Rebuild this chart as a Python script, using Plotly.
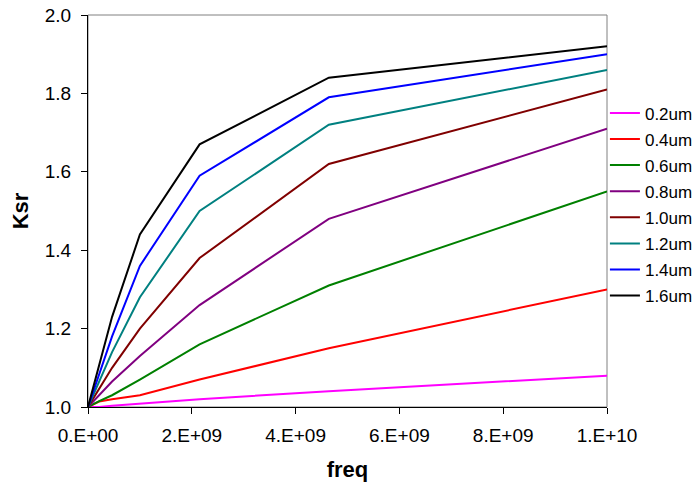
import plotly.graph_objects as go

freq = [0, 2.15e8, 4.64e8, 1e9, 2.15e9, 4.64e9, 1e10]

series_names = ["0.2um", "0.4um", "0.6um", "0.8um", "1.0um", "1.2um", "1.4um", "1.6um"]
ksr_02 = [1.0, 1.000, 1.003, 1.008, 1.02, 1.04, 1.08]
ksr_04 = [1.0, 1.014, 1.020, 1.03, 1.07, 1.15, 1.30]
ksr_06 = [1.0, 1.015, 1.030, 1.07, 1.16, 1.31, 1.55]
ksr_08 = [1.0, 1.030, 1.065, 1.13, 1.26, 1.48, 1.71]
ksr_10 = [1.0, 1.045, 1.100, 1.20, 1.38, 1.62, 1.81]
ksr_12 = [1.0, 1.065, 1.140, 1.28, 1.50, 1.72, 1.86]
ksr_14 = [1.0, 1.085, 1.180, 1.36, 1.59, 1.79, 1.90]
ksr_16 = [1.0, 1.110, 1.230, 1.44, 1.67, 1.84, 1.92]
all_series = [ksr_02, ksr_04, ksr_06, ksr_08, ksr_10, ksr_12, ksr_14, ksr_16]
colors = ["#FF00FF", "#FF0000", "#008000", "#800080", "#800000", "#008080", "#0000FF", "#000000"]

x_tickvals = [0, 2e9, 4e9, 6e9, 8e9, 1e10]
x_ticktext = ["0.E+00", "2.E+09", "4.E+09", "6.E+09", "8.E+09", "1.E+10"]
y_tickvals = [1.0, 1.2, 1.4, 1.6, 1.8, 2.0]

fig = go.Figure()
for name, vals, c in zip(series_names, all_series, colors):
    fig.add_trace(go.Scatter(x=freq, y=vals, mode="lines", name=name,
                             legendgroup=name,
                             line=dict(color=c, width=2)))

font = "Liberation Sans, Arial, sans-serif"
fig.update_layout(
    width=697, height=482,
    margin=dict(l=88, r=90, t=15, b=75, autoexpand=False),
    paper_bgcolor="white", plot_bgcolor="white",
    font=dict(family=font, size=19, color="black"),
    legend=dict(x=0.996, xanchor="left", y=0.517, yanchor="middle",
                font=dict(size=17), itemwidth=30, borderwidth=0,
                tracegroupgap=1, traceorder="grouped",
                bgcolor="rgba(0,0,0,0)"),
    shapes=[dict(type="rect", xref="paper", yref="paper", x0=0, y0=0, x1=1, y1=1,
                 line=dict(color="#808080", width=1), layer="below")],
)
fig.update_xaxes(range=[0, 1e10], tickvals=x_tickvals, ticktext=x_ticktext,
                 showgrid=False, zeroline=False, showline=True, linecolor="black",
                 linewidth=1, ticks="outside", ticklen=6, tickcolor="black",
                 automargin=False, ticklabelstandoff=5, ticklabeloverflow="allow",
                 title=dict(text="<b>freq</b>", font=dict(size=22), standoff=16))
fig.update_yaxes(range=[1.0, 2.0], tickvals=y_tickvals, tickformat=".1f",
                 showgrid=False, zeroline=False, showline=True, linecolor="black",
                 linewidth=1, ticks="outside", ticklen=6, tickcolor="black",
                 automargin=False, ticklabelstandoff=6, ticklabeloverflow="allow",
                 title=dict(text="<b>Ksr</b>", font=dict(size=22), standoff=10))

fig.write_html("out.html", config={"displayModeBar": False},
               post_script="document.body.style.margin='0px';document.body.style.overflow='hidden';")
